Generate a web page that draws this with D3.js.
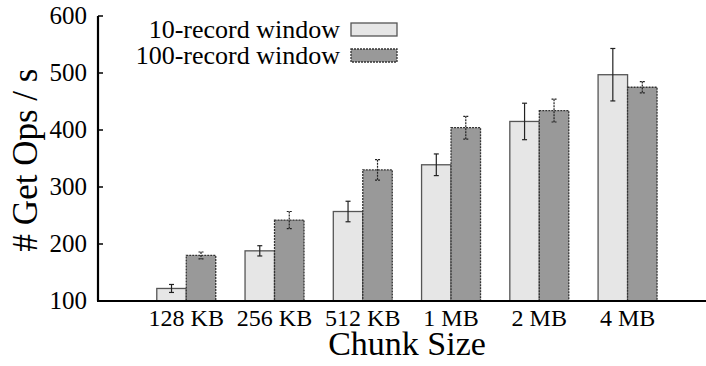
<!DOCTYPE html>
<html>
<head>
<meta charset="utf-8">
<script src="https://cdn.jsdelivr.net/npm/d3@7/dist/d3.min.js"></script>
</head>
<body style="margin:0">
<svg id="chart" width="706" height="366"></svg>
<script>
const categories = ["128 KB", "256 KB", "512 KB", "1 MB", "2 MB", "4 MB"];
const seriesNames = ["10-record window", "100-record window"];
const tenRecord = [122, 188, 257, 339, 415, 497];
const tenRecordErr = [7, 9, 18, 19, 32, 46];
const hundredRecord = [180, 242, 330, 404, 434, 475];
const hundredRecordErr = [6, 15, 18, 20, 20, 10];
const yTicks = [100, 200, 300, 400, 500, 600];

const svg = d3.select("#chart");
const x = d3.scaleLinear().domain([-1, 5.9]).range([98, 707]);
const y = d3.scaleLinear().domain([100, 600]).range([301, 16]);
const bw = 0.334;

function label(parent, size) {
  return parent.append("text")
    .attr("font-size", size)
    .style("font-family", '"Liberation Serif"')
    .attr("fill", "#000");
}

const series = [
  { name: seriesNames[0], vals: tenRecord, errs: tenRecordErr, off: -bw, fill: "#e6e6e6", stroke: "#555", dash: null },
  { name: seriesNames[1], vals: hundredRecord, errs: hundredRecordErr, off: 0, fill: "#999999", stroke: "#333", dash: "2,1" }
];

series.forEach(s => {
  const g = svg.append("g");
  g.selectAll("rect").data(s.vals).join("rect")
    .attr("x", (d, i) => x(i + s.off))
    .attr("width", (d, i) => x(i + s.off + bw) - x(i + s.off))
    .attr("y", d => y(d))
    .attr("height", d => y(100) - y(d))
    .attr("fill", s.fill)
    .attr("stroke", s.stroke)
    .attr("stroke-width", 1.3)
    .attr("stroke-dasharray", s.dash);
  s.vals.forEach((d, i) => {
    const cx = x(i + s.off + bw / 2);
    const e = s.errs[i];
    const eg = g.append("g").attr("stroke", "#222").attr("stroke-width", 1.2).attr("stroke-dasharray", s.dash);
    eg.append("line").attr("x1", cx).attr("x2", cx).attr("y1", y(d + e)).attr("y2", y(d - e));
    eg.append("line").attr("x1", cx - 2.5).attr("x2", cx + 2.5).attr("y1", y(d + e)).attr("y2", y(d + e));
    eg.append("line").attr("x1", cx - 2.5).attr("x2", cx + 2.5).attr("y1", y(d - e)).attr("y2", y(d - e));
  });
});

// Left axis (manual, from scale)
const ax = svg.append("g");
ax.append("line").attr("x1", 98).attr("x2", 98).attr("y1", y(600)).attr("y2", y(100))
  .attr("stroke", "#000").attr("stroke-width", 2.2);
yTicks.forEach(t => {
  ax.append("line").attr("x1", 98).attr("x2", 103).attr("y1", y(t)).attr("y2", y(t))
    .attr("stroke", "#000").attr("stroke-width", 1.5);
  label(ax, 25).attr("x", 87).attr("y", y(t) + 8).attr("text-anchor", "end").text(t);
});

// Bottom axis
ax.append("line").attr("x1", 97).attr("x2", 706).attr("y1", y(100)).attr("y2", y(100))
  .attr("stroke", "#000").attr("stroke-width", 2.2);
categories.forEach((c, i) => {
  label(ax, 24).attr("x", x(i)).attr("y", 326).attr("text-anchor", "middle").text(c);
});

// Axis titles
label(svg, 34).attr("x", 407).attr("y", 355).attr("text-anchor", "middle").text("Chunk Size");
label(svg, 35).attr("transform", "translate(37,160) rotate(-90)").attr("text-anchor", "middle").text("# Get Ops / s");

// Legend
const leg = svg.append("g");
series.forEach((s, i) => {
  const yy = 23 + i * 26;
  leg.append("rect").attr("x", 351).attr("y", yy).attr("width", 46).attr("height", 13)
    .attr("fill", s.fill).attr("stroke", s.stroke).attr("stroke-width", 1.3).attr("stroke-dasharray", s.dash);
  label(leg, 26).attr("x", 340).attr("y", 38 + i * 25.5).attr("text-anchor", "end").text(s.name);
});
</script>
</body>
</html>
